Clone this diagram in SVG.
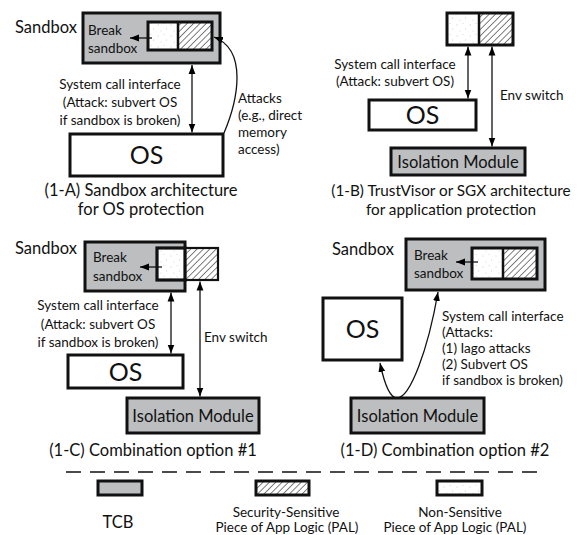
<svg xmlns="http://www.w3.org/2000/svg" width="578" height="535" viewBox="0 0 578 535">
<defs>
<pattern id="hatch" patternUnits="userSpaceOnUse" width="4.5" height="4.5" patternTransform="rotate(45)">
<rect width="4.5" height="4.5" fill="#fff"/>
<line x1="0" y1="0" x2="0" y2="4.5" stroke="#000" stroke-width="1"/>
</pattern>
<pattern id="dots" patternUnits="userSpaceOnUse" width="13" height="11">
<rect width="13" height="11" fill="#fff"/>
<circle cx="2" cy="3" r="0.45" fill="#999"/>
<circle cx="8" cy="1.5" r="0.4" fill="#aaa"/>
<circle cx="10.5" cy="7" r="0.45" fill="#999"/>
<circle cx="5" cy="9" r="0.4" fill="#aaa"/>
</pattern>
<marker id="ah" viewBox="0 0 10 10" refX="10" refY="5" markerWidth="9" markerHeight="9" markerUnits="userSpaceOnUse" orient="auto-start-reverse">
<path d="M0,1.2 L10,5 L0,8.8 z" fill="#000"/>
</marker>
</defs>
<style>
text{font-family:Lato,"Open Sans",sans-serif;fill:#111}
.t13{font-size:13.5px}
.lab{font-size:16.5px}
.cap{font-size:16.5px}
.capb{font-size:15.3px}
.os{font-size:25px}
.iso{font-size:16.5px}
.mid{text-anchor:middle}
.tcb{fill:#bcbec0;stroke:#111;stroke-width:3}
.box{fill:#fff;stroke:#111;stroke-width:3}
.hat{fill:url(#hatch)}
.dot{fill:url(#dots)}
.frame{fill:none;stroke:#111;stroke-width:3}
.div{stroke:#111;stroke-width:2.5}
.con{fill:none;stroke:#111;stroke-width:1.3}
.dash{stroke:#111;stroke-width:1.5;stroke-dasharray:15 9}
</style>

<!-- 1-A -->
<g id="a-sandbox">
<text class="lab" x="15" y="33">Sandbox</text>
<rect class="tcb" x="83" y="13" width="137" height="50"/>
<text class="t13" x="88" y="35">Break</text>
<text class="t13" x="88" y="53">sandbox</text>
</g>
<g id="a-pal">
<rect class="dot" x="148" y="22" width="30" height="28"/>
<rect class="hat" x="178" y="22" width="34" height="28"/>
<line class="div" x1="178" y1="22" x2="178" y2="50"/>
<rect class="frame" x="148" y="22" width="64" height="28"/>
</g>
<g id="a-os">
<rect class="box" x="70" y="134" width="153" height="42"/>
<text class="os mid" x="146.5" y="164">OS</text>
</g>
<g id="a-labels">
<text class="t13 mid" x="120" y="88.5">System call interface</text>
<text class="t13 mid" x="120" y="107">(Attack: subvert OS</text>
<text class="t13 mid" x="120" y="125">if sandbox is broken)</text>
<text class="t13" x="238" y="102.5">Attacks</text>
<text class="t13" x="238" y="119.5">(e.g., direct</text>
<text class="t13" x="238" y="136.5">memory</text>
<text class="t13" x="238" y="153.5">access)</text>
<text class="cap mid" x="141" y="196">(1-A) Sandbox architecture</text>
<text class="cap mid" x="141" y="215">for OS protection</text>
</g>

<!-- 1-B -->
<g id="b-pal">
<rect class="dot" x="447" y="13" width="32" height="32"/>
<rect class="hat" x="479" y="13" width="34" height="32"/>
<line class="div" x1="479" y1="13" x2="479" y2="45"/>
<rect class="frame" x="447" y="13" width="66" height="32"/>
</g>
<g id="b-os">
<rect class="box" x="369" y="100" width="107" height="30"/>
<text class="os mid" x="422.5" y="124">OS</text>
</g>
<g id="b-iso">
<rect class="tcb" x="391" y="148" width="134" height="27"/>
<text class="iso mid" x="458" y="167.5">Isolation Module</text>
</g>
<g id="b-labels">
<text class="t13 mid" x="395" y="69">System call interface</text>
<text class="t13 mid" x="395" y="86">(Attack: subvert OS)</text>
<text class="t13" x="500" y="100">Env switch</text>
<text class="capb mid" x="451" y="196">(1-B) TrustVisor or SGX architecture</text>
<text class="capb mid" x="451" y="215">for application protection</text>
</g>

<!-- 1-C -->
<g id="c-sandbox">
<text class="lab" x="15" y="253.5">Sandbox</text>
<rect class="tcb" x="85" y="242" width="100" height="49"/>
<text class="t13" x="93" y="262">Break</text>
<text class="t13" x="93" y="281">sandbox</text>
</g>
<g id="c-pal">
<rect class="hat" x="185" y="248" width="33" height="32" stroke="#111" stroke-width="2.2"/>
<rect class="dot" x="157" y="248" width="28" height="32" stroke="#111" stroke-width="3.2"/>
</g>
<g id="c-os">
<rect class="box" x="68" y="355" width="115" height="33"/>
<text class="os mid" x="125.5" y="380.5">OS</text>
</g>
<g id="c-iso">
<rect class="tcb" x="127" y="398" width="132" height="35"/>
<text class="iso mid" x="193" y="421.5">Isolation Module</text>
</g>
<g id="c-labels">
<text class="t13 mid" x="98" y="310">System call interface</text>
<text class="t13 mid" x="98" y="329">(Attack: subvert OS</text>
<text class="t13 mid" x="98" y="347">if sandbox is broken)</text>
<text class="t13" x="204" y="342">Env switch</text>
<text class="cap mid" x="153" y="455.5">(1-C) Combination option #1</text>
</g>

<!-- 1-D -->
<g id="d-sandbox">
<text class="lab" x="332" y="255">Sandbox</text>
<rect class="tcb" x="406" y="239" width="139" height="51"/>
<text class="t13" x="414" y="259.5">Break</text>
<text class="t13" x="414" y="277.5">sandbox</text>
</g>
<g id="d-pal">
<rect class="dot" x="472" y="248" width="31" height="31"/>
<rect class="hat" x="503" y="248" width="34" height="31"/>
<line class="div" x1="503" y1="248" x2="503" y2="279"/>
<rect class="frame" x="472" y="248" width="65" height="31"/>
</g>
<g id="d-os">
<rect class="box" x="323" y="298" width="79" height="62"/>
<text class="os mid" x="362.5" y="338">OS</text>
</g>
<g id="d-iso">
<rect class="tcb" x="351" y="398" width="133" height="35"/>
<text class="iso mid" x="417.5" y="421.5">Isolation Module</text>
</g>
<g id="d-labels">
<text class="t13" x="442" y="320.5">System call interface</text>
<text class="t13" x="442" y="336.5">(Attacks:</text>
<text class="t13" x="442" y="352.5">(1) Iago attacks</text>
<text class="t13" x="442" y="368.5">(2) Subvert OS</text>
<text class="t13" x="442" y="384.5">if sandbox is broken)</text>
<text class="cap mid" x="445" y="455.5">(1-D) Combination option #2</text>
</g>

<!-- connectors -->
<g id="connectors">
<line class="con" x1="152" y1="38" x2="130" y2="38" marker-end="url(#ah)"/>
<line class="con" x1="192" y1="65" x2="192" y2="132.5" marker-start="url(#ah)" marker-end="url(#ah)"/>
<path class="con" d="M224,133 C238,100 248,50 214,37" marker-end="url(#ah)"/>
<line class="con" x1="468" y1="46.5" x2="468" y2="98.5" marker-start="url(#ah)" marker-end="url(#ah)"/>
<line class="con" x1="492" y1="46.5" x2="492" y2="146.5" marker-start="url(#ah)" marker-end="url(#ah)"/>
<line class="con" x1="162" y1="267" x2="140" y2="267" marker-end="url(#ah)"/>
<line class="con" x1="171" y1="292.5" x2="171" y2="353.5" marker-start="url(#ah)" marker-end="url(#ah)"/>
<line class="con" x1="200" y1="281.5" x2="200" y2="396.5" marker-start="url(#ah)" marker-end="url(#ah)"/>
<line class="con" x1="478" y1="262" x2="456" y2="262" marker-end="url(#ah)"/>
<path class="con" d="M380,363 C384,382 390,398 397,398 C410,398 428,350 438,292" marker-start="url(#ah)" marker-end="url(#ah)"/>
</g>

<!-- legend -->
<g id="legend">
<line class="dash" x1="66" y1="472" x2="537" y2="472"/>
<rect class="tcb" x="98" y="481" width="44" height="14"/>
<rect class="hat" x="256" y="481" width="53" height="14" stroke="#111" stroke-width="3"/>
<rect class="dot" x="437" y="481" width="45" height="14" stroke="#111" stroke-width="3"/>
<text class="cap mid" x="118" y="528">TCB</text>
<text class="t13 mid" x="286" y="516.5">Security-Sensitive</text>
<text class="t13 mid" x="287" y="531.5">Piece of App Logic (PAL)</text>
<text class="t13 mid" x="460" y="516.5">Non-Sensitive</text>
<text class="t13 mid" x="455" y="531.5">Piece of App Logic (PAL)</text>
</g>
</svg>
